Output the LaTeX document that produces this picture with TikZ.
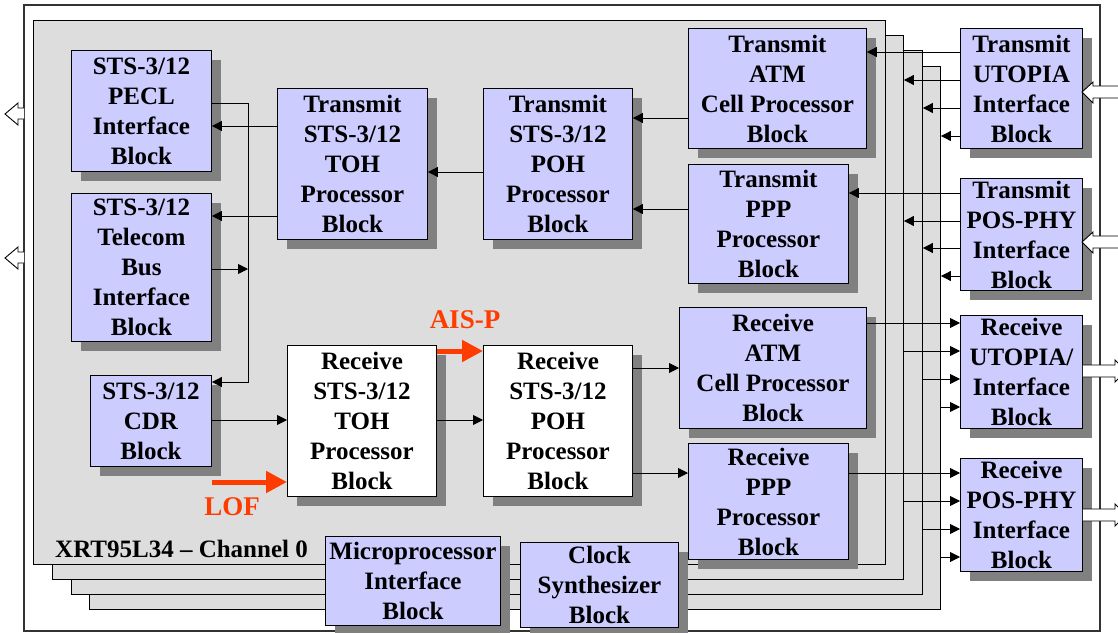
\documentclass[tikz,border=0pt]{standalone}
\usepackage{fontspec}
\setmainfont{Liberation Serif}
\usetikzlibrary{shadows,arrows.meta}
\definecolor{boxblue}{RGB}{204,204,255}
\definecolor{planegray}{RGB}{221,221,221}
\definecolor{shadowgray}{RGB}{128,128,128}
\definecolor{alarmred}{RGB}{255,60,0}
\begin{document}
\begin{tikzpicture}[x=1pt,y=-1pt,
  blk/.style={draw=black, line width=0.9pt, fill=boxblue, inner sep=0pt, align=center,
    anchor=north west, font=\bfseries\fontsize{25}{30}\selectfont,
    drop shadow={shadow xshift=10pt, shadow yshift=-10pt, fill=shadowgray, opacity=1}},
  wblk/.style={blk, fill=white},
  plane/.style={draw=black, line width=0.9pt, fill=planegray, inner sep=0pt, anchor=north west},
  arr/.style={line width=0.9pt, -{Triangle[length=10pt,width=10pt]}},
  redarr/.style={line width=5pt, alarmred, -{Triangle[length=21pt,width=21pt]}},
  redlbl/.style={text=alarmred, font=\bfseries\fontsize{27}{30}\selectfont, inner sep=0pt},
  chlbl/.style={font=\bfseries\fontsize{25}{30}\selectfont, inner sep=0pt},
  hollow/.style={draw=black, line width=0.9pt, fill=white, line join=miter}
]
\clip (0,0) rectangle (1118,632);
\fill[white] (0,0) rectangle (1118,632);
% outer frame
\draw[line width=1.1pt, black!80] (24,5) rectangle (1100,631);
% stacked channel planes
\node[plane, minimum width=851pt, minimum height=543pt] (p3) at (89,66) {};
\node[plane, minimum width=851pt, minimum height=544pt] (p2) at (71,50) {};
\node[plane, minimum width=851pt, minimum height=544pt] (p1) at (52,35) {};
\node[plane, minimum width=852pt, minimum height=544pt] (p0) at (33,20) {};

% blocks
\node[blk, minimum width=140pt, minimum height=121pt] (pecl) at (71,50) {STS-3/12\\PECL\\Interface\\Block};
\node[blk, minimum width=140pt, minimum height=148pt] (tbus) at (71,193) {STS-3/12\\Telecom\\Bus\\Interface\\Block};
\node[blk, minimum width=121pt, minimum height=91pt] (cdr) at (90,375) {STS-3/12\\CDR\\Block};
\node[blk, minimum width=150pt, minimum height=151pt] (ttoh) at (277,88) {Transmit\\STS-3/12\\TOH\\Processor\\Block};
\node[blk, minimum width=149pt, minimum height=151pt] (tpoh) at (483,88) {Transmit\\STS-3/12\\POH\\Processor\\Block};
\node[blk, minimum width=178pt, minimum height=120pt] (tatm) at (688,28) {Transmit\\ATM\\Cell Processor\\Block};
\node[blk, minimum width=160pt, minimum height=119pt] (tppp) at (688,164) {Transmit\\PPP\\Processor\\Block};
\node[wblk, minimum width=149pt, minimum height=151pt] (rtoh) at (287,345) {Receive\\STS-3/12\\TOH\\Processor\\Block};
\node[wblk, minimum width=149pt, minimum height=151pt] (rpoh) at (483,345) {Receive\\STS-3/12\\POH\\Processor\\Block};
\node[blk, minimum width=187pt, minimum height=121pt] (ratm) at (679,307) {Receive\\ATM\\Cell Processor\\Block};
\node[blk, minimum width=160pt, minimum height=116pt] (rppp) at (688,443) {Receive\\PPP\\Processor\\Block};
\node[blk, minimum width=175pt, minimum height=89pt] (mpu) at (325,536) {Microprocessor\\Interface\\Block};
\node[blk, minimum width=158pt, minimum height=85pt] (clk) at (520,542) {Clock\\Synthesizer\\Block};
\node[blk, minimum width=122pt, minimum height=120pt] (tutp) at (960,28) {Transmit\\UTOPIA\\Interface\\Block};
\node[blk, minimum width=122pt, minimum height=112pt] (tpos) at (960,178) {Transmit\\POS-PHY\\Interface\\Block};
\node[blk, minimum width=122pt, minimum height=113pt] (rutp) at (960,315) {Receive\\UTOPIA/\\Interface\\Block};
\node[blk, minimum width=122pt, minimum height=113pt] (rpos) at (960,458) {Receive\\POS-PHY\\Interface\\Block};

% labels
\node[chlbl, anchor=west] (chname) at (55,549) {XRT95L34 – Channel 0};
\node[redlbl] (aisp) at (465,320) {AIS-P};
\node[redlbl] (lof) at (232,507) {LOF};

% internal connectors
\coordinate (jn) at (248,0);
\draw[arr] (pecl.east |- 0,103) -- (jn |- 0,103) -- (jn |- 0,382) -- (cdr.east |- 0,382);
\draw[arr] (tbus.east |- 0,269) -- (jn |- 0,269);
\draw[arr] (ttoh.west |- 0,126) -- (pecl.east |- 0,126);
\draw[arr] (ttoh.west |- 0,216) -- (tbus.east |- 0,216);
\draw[arr] (tpoh.west |- 0,172) -- (ttoh.east |- 0,172);
\draw[arr] (tatm.west |- 0,118) -- (tpoh.east |- 0,118);
\draw[arr] (tppp.west |- 0,209) -- (tpoh.east |- 0,209);
\draw[arr] (cdr.east |- 0,420) -- (rtoh.west |- 0,420);
\draw[arr] (rtoh.east |- 0,420) -- (rpoh.west |- 0,420);
\draw[arr] (rpoh.east |- 0,368) -- (ratm.west |- 0,368);
\draw[arr] (rpoh.east |- 0,473) -- (rppp.west |- 0,473);

% alarm arrows
\draw[redarr] (rtoh.east |- 0,351) -- (rpoh.west |- 0,351);
\draw[redarr] (cdr.east |- 0,482) -- (rtoh.west |- 0,482);

% right side: transmit inputs
\draw[arr] (tutp.west |- 0,52) -- (tatm.east |- 0,52);
\draw[arr] (tutp.west |- 0,80) -- (p1.east |- 0,80);
\draw[arr] (tutp.west |- 0,108) -- (p2.east |- 0,108);
\draw[arr] (tutp.west |- 0,136) -- (p3.east |- 0,136);
\draw[arr] (tpos.west |- 0,193) -- (tppp.east |- 0,193);
\draw[arr] (tpos.west |- 0,221) -- (p1.east |- 0,221);
\draw[arr] (tpos.west |- 0,248) -- (p2.east |- 0,248);
\draw[arr] (tpos.west |- 0,276) -- (p3.east |- 0,276);
% right side: receive outputs
\draw[arr] (ratm.east |- 0,323) -- (rutp.west |- 0,323);
\draw[arr] (p1.east |- 0,351) -- (rutp.west |- 0,351);
\draw[arr] (p2.east |- 0,379) -- (rutp.west |- 0,379);
\draw[arr] (p3.east |- 0,407) -- (rutp.west |- 0,407);
\draw[arr] (rppp.east |- 0,473) -- (rpos.west |- 0,473);
\draw[arr] (p1.east |- 0,501) -- (rpos.west |- 0,501);
\draw[arr] (p2.east |- 0,529) -- (rpos.west |- 0,529);
\draw[arr] (p3.east |- 0,557) -- (rpos.west |- 0,557);

% hollow line arrows
\draw[hollow] (24,108) -- (18,108) -- (18,103) -- (5,114) -- (18,125) -- (18,119) -- (24,119);
\draw[hollow] (24,252) -- (18,252) -- (18,247) -- (5,258) -- (18,269) -- (18,263) -- (24,263);
\draw[hollow] (1120,86) -- (1093,86) -- (1093,82) -- (1082,92) -- (1093,103) -- (1093,98) -- (1120,98);
\draw[hollow] (1120,236) -- (1093,236) -- (1093,232) -- (1082,242) -- (1093,253) -- (1093,248) -- (1120,248);
\draw[hollow] (rutp.east |- 0,365) -- (1115,365) -- (1115,360) -- (1126,371) -- (1115,382) -- (1115,377) -- (rutp.east |- 0,377);
\draw[hollow] (rpos.east |- 0,509) -- (1115,509) -- (1115,504) -- (1126,515) -- (1115,526) -- (1115,521) -- (rpos.east |- 0,521);
\end{tikzpicture}
\end{document}
